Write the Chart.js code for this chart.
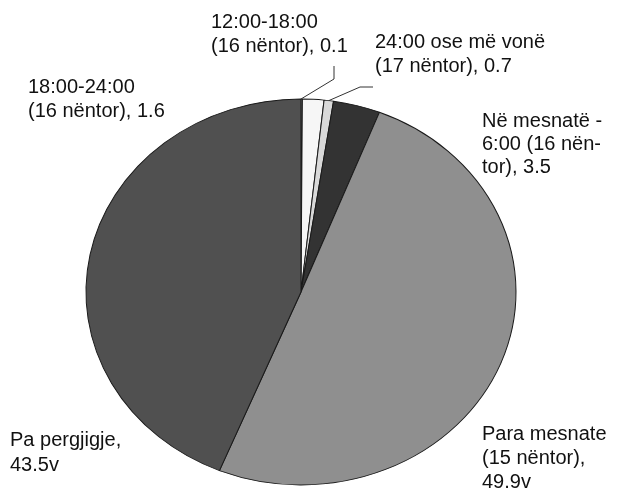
<!DOCTYPE html>
<html>
<head>
<meta charset="utf-8">
<script src="https://cdn.jsdelivr.net/npm/chart.js@4.4.1/dist/chart.umd.min.js"></script>
<style>
html,body{margin:0;padding:0;background:#fff;}
#wrap{width:617px;height:489px;position:relative;}
</style>
</head>
<body>
<div id="wrap"><canvas id="c" width="617" height="489"></canvas></div>
<script>
// Data (clockwise from 12 o'clock)
const categories = [
  "12:00-18:00 (16 nëntor)",
  "18:00-24:00 (16 nëntor)",
  "24:00 ose më vonë (17 nëntor)",
  "Në mesnatë - 6:00 (16 nëntor)",
  "Para mesnate (15 nëntor)",
  "Pa pergjigje"
];
const values = [0.1, 1.6, 0.7, 3.5, 49.9, 43.5];
const valueTexts = ["0.1", "1.6", "0.7", "3.5", "49.9v", "43.5v"];
const labelLines = [
  ["12:00-18:00", "(16 nëntor), 0.1"],
  ["18:00-24:00", "(16 nëntor), 1.6"],
  ["24:00 ose më vonë", "(17 nëntor), 0.7"],
  ["Në mesnatë -", "6:00 (16 nën-", "tor), 3.5"],
  ["Para mesnate", "(15 nëntor),", "49.9v"],
  ["Pa pergjigje,", "43.5v"]
];
const colors = ["#ffffff", "#f6f6f6", "#d9d9d9", "#333333", "#8f8f8f", "#505050"];

// Layout (not data)
const X_STRETCH = 215 / 193;
const labelPos = [
  {x: 211, y: 22, lh: 24, leader: {angle: "start", pts: [[334, 79], [334, 66]]}},
  {x: 28,  y: 87, lh: 24},
  {x: 375, y: 42, lh: 24, leader: {angle: "mid", pts: [[360, 87], [373, 87]]}},
  {x: 482, y: 121, lh: 23},
  {x: 482, y: 434, lh: 24},
  {x: 10,  y: 440, lh: 25}
];

const ellipsePlugin = {
  id: 'ellipse',
  beforeDatasetsDraw(chart) {
    const a = chart.getDatasetMeta(0).data[0];
    const ctx = chart.ctx;
    ctx.save();
    ctx.translate(a.x, a.y);
    ctx.scale(X_STRETCH, 1);
    ctx.translate(-a.x, -a.y);
  },
  afterDatasetsDraw(chart) {
    chart.ctx.restore();
  }
};

const labelPlugin = {
  id: 'labels',
  afterDraw(chart) {
    const ctx = chart.ctx;
    const arcs = chart.getDatasetMeta(0).data;
    ctx.save();
    ctx.font = '20px "Liberation Sans", Arial, sans-serif';
    ctx.fillStyle = '#111';
    ctx.textBaseline = 'middle';
    ctx.textAlign = 'left';
    labelLines.forEach((lines, i) => {
      const p = labelPos[i];
      lines.forEach((t, k) => ctx.fillText(t, p.x, p.y + k * p.lh));
      if (p.leader) {
        const a = arcs[i];
        const ang = p.leader.angle === "start" ? a.startAngle : (a.startAngle + a.endAngle) / 2;
        const sx = a.x + Math.cos(ang) * a.outerRadius * X_STRETCH;
        const sy = a.y + Math.sin(ang) * a.outerRadius;
        ctx.beginPath();
        ctx.strokeStyle = '#333';
        ctx.lineWidth = 1;
        ctx.moveTo(sx, sy);
        p.leader.pts.forEach(q => ctx.lineTo(q[0], q[1]));
        ctx.stroke();
      }
    });
    ctx.restore();
  }
};

new Chart(document.getElementById('c'), {
  type: 'pie',
  data: {
    labels: categories,
    datasets: [{
      data: values,
      backgroundColor: colors,
      borderColor: '#1a1a1a',
      borderWidth: 0.9
    }]
  },
  options: {
    responsive: false,
    animation: false,
    radius: 193,
    layout: {padding: {left: 0, right: 15, top: 95, bottom: 0}},
    plugins: {legend: {display: false}, tooltip: {enabled: false}}
  },
  plugins: [ellipsePlugin, labelPlugin]
});
</script>
</body>
</html>
